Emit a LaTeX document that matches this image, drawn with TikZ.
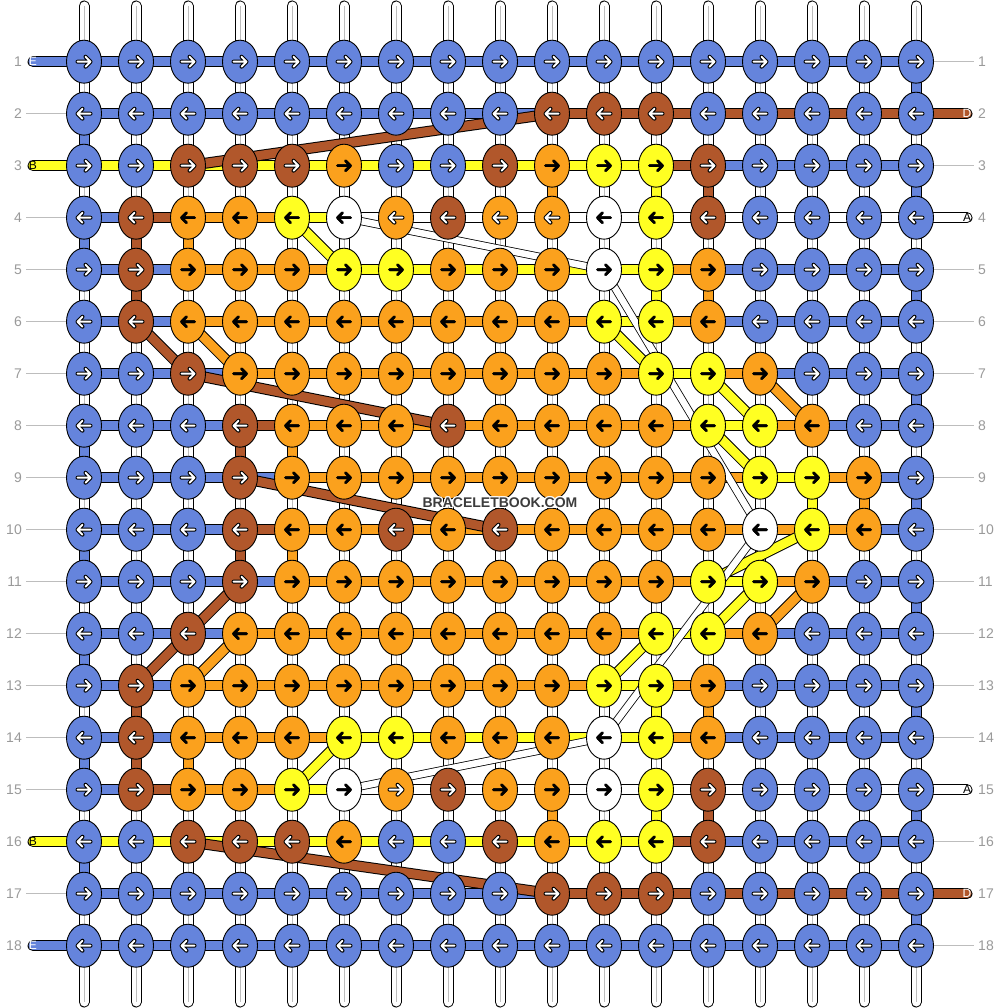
\documentclass[tikz,border=0pt]{standalone}
\usepackage{fontspec}
\setmainfont{Liberation Sans}
\usetikzlibrary{shapes.geometric}
\definecolor{cB}{HTML}{6584DC}
\definecolor{cR}{HTML}{B1572B}
\definecolor{cO}{HTML}{FBA11D}
\definecolor{co}{HTML}{FBA11D}
\definecolor{cY}{HTML}{FFFF22}
\definecolor{cW}{HTML}{FFFFFF}
\definecolor{lblgray}{HTML}{9A9A9A}
\definecolor{linegray}{HTML}{BDBDBD}
\definecolor{wmark}{HTML}{3C3C3C}
\pgfdeclarelayer{base}
\pgfdeclarelayer{segs}
\pgfdeclarelayer{diag}
\pgfsetlayers{base,segs,diag,main}
\begin{document}
\begin{tikzpicture}[x=1pt,y=-1pt,
  knot/.style={ellipse, draw=black, line width=0.9pt, minimum width=35pt, minimum height=43pt, inner sep=0pt},
  seg/.style={draw=black, line width=1pt, double distance=9pt},
  wthin/.style={draw=black, line width=0.8pt, double=white, double distance=6.5pt},
  arr/.style={line cap=round, line join=round},
  arout-B/.style={arr, draw=black, line width=4pt}, arin-B/.style={arr, draw=white, line width=2pt},
  arout-R/.style={arout-B}, arin-R/.style={arin-B},
  arout-o/.style={arout-B}, arin-o/.style={arin-B},
  arout-O/.style={arr, draw=black, line width=2.6pt}, arin-O/.style={arout-O},
  arout-Y/.style={arout-O}, arin-Y/.style={arout-O},
  arout-W/.style={arout-O}, arin-W/.style={arout-O},
  numlbl/.style={text=lblgray, font=\fontsize{14}{14}\selectfont, inner sep=0pt},
  caplbl/.style={font=\fontsize{12}{12}\selectfont, inner sep=0pt},
  lblline/.style={draw=linegray, line width=1pt}
]
\useasboundingbox (0,0) rectangle (1000,1008);
\begin{pgfonlayer}{base}
  \fill[white] (0,0) rectangle (1000,1008);
  \foreach \c in {1,...,17} {
    \pgfmathsetmacro\xx{84+52*(\c-1)}
    \coordinate (top-\c) at (\xx,6);
    \coordinate (bot-\c) at (\xx,1002);
    \draw[black, line width=11pt, line cap=round] (top-\c) -- (bot-\c);
    \draw[white, line width=9pt, line cap=round] (top-\c) -- (bot-\c);
    \draw[linegray, line width=1pt] (top-\c) -- (bot-\c);
  }
\end{pgfonlayer}

% knots
\foreach \r/\row in {
 1/{B,B,B,B,B,B,B,B,B,B,B,B,B,B,B,B,B},
 2/{B,B,B,B,B,B,B,B,B,R,R,R,B,B,B,B,B},
 3/{B,B,R,R,R,O,B,B,R,O,Y,Y,R,B,B,B,B},
 4/{B,R,O,O,Y,W,o,R,o,o,W,Y,R,B,B,B,B},
 5/{B,R,O,O,O,Y,Y,O,O,O,W,Y,O,B,B,B,B},
 6/{B,R,O,O,O,O,O,O,O,O,Y,Y,O,B,B,B,B},
 7/{B,B,R,O,O,O,O,O,O,O,O,Y,Y,O,B,B,B},
 8/{B,B,B,R,O,O,O,R,O,O,O,O,Y,Y,O,B,B},
 9/{B,B,B,R,O,O,O,O,O,O,O,O,O,Y,Y,O,B},
 10/{B,B,B,R,O,O,R,O,R,O,O,O,O,W,Y,O,B},
 11/{B,B,B,R,O,O,O,O,O,O,O,O,Y,Y,O,B,B},
 12/{B,B,R,O,O,O,O,O,O,O,O,Y,Y,O,B,B,B},
 13/{B,R,O,O,O,O,O,O,O,O,Y,Y,O,B,B,B,B},
 14/{B,R,O,O,O,Y,Y,O,O,O,W,Y,O,B,B,B,B},
 15/{B,R,O,O,Y,W,o,R,O,O,W,Y,R,B,B,B,B},
 16/{B,B,R,R,R,O,B,B,R,O,Y,Y,R,B,B,B,B},
 17/{B,B,B,B,B,B,B,B,B,R,R,R,B,B,B,B,B},
 18/{B,B,B,B,B,B,B,B,B,B,B,B,B,B,B,B,B}} {
  \pgfmathsetmacro\yy{61.7+52*(\r-1)}
  \pgfmathsetmacro\dir{ifthenelse(mod(\r,2)==1,1,-1)}
  \foreach \k [count=\c] in \row {
    \pgfmathsetmacro\xx{84+52*(\c-1)}
    \node[knot, fill=c\k] (k-\r-\c) at (\xx,\yy) {};
    \begin{scope}[shift={(k-\r-\c.center)}, xscale=\dir]
      \draw[arout-\k] (-6.5,0) -- (6.5,0) (1.5,-5) -- (6.5,0) -- (1.5,5);
      \draw[arin-\k] (-6.5,0) -- (6.5,0) (1.5,-5) -- (6.5,0) -- (1.5,5);
    \end{scope}
  }
}

% horizontal thread segments
\begin{pgfonlayer}{segs}
\foreach \r/\row in {
 1/{B,B,B,B,B,B,B,B,B,B,B,B,B,B,B,B},
 2/{B,B,B,B,B,B,B,B,B,R,R,R,R,R,R,R},
 3/{Y,Y,Y,Y,Y,Y,Y,Y,Y,Y,Y,R,B,B,B,B},
 4/{B,R,O,O,Y,W,W,W,W,W,W,W,W,W,W,W},
 5/{B,B,O,O,O,Y,Y,Y,Y,Y,Y,O,B,B,B,B},
 6/{B,B,O,O,O,O,O,O,O,O,Y,O,B,B,B,B},
 7/{B,B,B,O,O,O,O,O,O,O,O,Y,O,B,B,B},
 8/{B,B,B,R,O,O,O,O,O,O,O,O,Y,O,B,B},
 9/{B,B,B,B,O,O,O,O,O,O,O,O,O,Y,O,B},
 10/{B,B,B,R,O,O,O,O,O,O,O,O,O,O,O,B},
 11/{B,B,B,B,O,O,O,O,O,O,O,O,Y,O,B,B},
 12/{B,B,B,O,O,O,O,O,O,O,O,Y,O,B,B,B},
 13/{B,B,O,O,O,O,O,O,O,O,Y,O,B,B,B,B},
 14/{B,B,O,O,O,Y,Y,Y,Y,Y,Y,O,B,B,B,B},
 15/{B,R,O,O,Y,W,W,W,W,W,W,W,W,W,W,W},
 16/{Y,Y,Y,Y,Y,Y,Y,Y,Y,Y,Y,R,B,B,B,B},
 17/{B,B,B,B,B,B,B,B,B,R,R,R,R,R,R,R},
 18/{B,B,B,B,B,B,B,B,B,B,B,B,B,B,B,B}} {
  \foreach \k [count=\c] in \row {
    \pgfmathtruncatemacro\cn{\c+1}
    \draw[seg, double=c\k] (k-\r-\c.center) -- (k-\r-\cn.center);
  }
}
% vertical coloured segments (column/top row/colour)
\foreach \c/\r/\k in {1/2/B,1/4/B,1/8/B,1/10/B,1/12/B,1/14/B,1/16/B,
  17/1/B,17/3/B,17/5/B,17/7/B,17/9/B,17/11/B,17/13/B,17/15/B,17/17/B,
  2/4/R,2/5/R,2/13/R,2/14/R,3/4/O,3/14/O,4/8/R,4/10/R,5/8/O,5/10/O,
  10/3/O,10/15/O,12/3/Y,12/5/Y,12/13/Y,12/15/Y,13/3/R,13/5/O,13/13/O,13/15/R,
  15/9/Y,16/9/O} {
  \pgfmathtruncatemacro\rn{\r+1}
  \draw[seg, double=c\k] (k-\r-\c.center) -- (k-\rn-\c.center);
}
% string ends with letters
\foreach \r/\k in {1/B,3/Y,16/Y,18/B} {
  \pgfmathsetmacro\yy{61.7+52*(\r-1)}
  \coordinate (endL-\r) at (33,\yy);
  \draw[seg, double=c\k, line cap=round] (endL-\r) -- (k-\r-1.center);
}
\foreach \r/\k in {2/R,4/W,15/W,17/R} {
  \pgfmathsetmacro\yy{61.7+52*(\r-1)}
  \coordinate (endR-\r) at (967,\yy);
  \draw[seg, double=c\k, line cap=round] (k-\r-17.center) -- (endR-\r);
}
\end{pgfonlayer}

% carried threads
\begin{pgfonlayer}{diag}
\foreach \a/\b/\k in {3-3/2-10/R, 6-2/7-3/R, 7-3/8-8/R, 9-4/10-9/R, 11-4/12-3/R, 12-3/13-2/R, 16-3/17-10/R,
  6-3/7-4/O, 7-14/8-15/O, 11-15/12-14/O, 13-3/12-4/O,
  4-5/5-6/Y, 6-11/7-12/Y, 7-13/8-14/Y, 8-13/9-14/Y, 10-15/11-13/Y, 11-14/12-13/Y, 12-12/13-11/Y, 14-6/15-5/Y} {
  \draw[seg, double=c\k] (k-\a.center) -- (k-\b.center);
}
\foreach \a/\b in {4-6/5-11, 5-11/10-14, 10-14/14-11, 14-11/15-6} {
  \draw[wthin] (k-\a.center) -- (k-\b.center);
}
\end{pgfonlayer}

% row labels
\foreach \r in {1,...,18} {
  \pgfmathsetmacro\yy{61.7+52*(\r-1)}
  \node[numlbl, anchor=east] (numL-\r) at (22,\yy) {\r};
  \node[numlbl, anchor=west] (numR-\r) at (978,\yy) {\r};
}
\foreach \r in {2,4,5,6,7,8,9,10,11,12,13,14,15,17} {
  \pgfmathsetmacro\yy{61.7+52*(\r-1)}
  \coordinate (gl-\r) at (26,\yy);
  \draw[lblline] (gl-\r) -- (k-\r-1.west);
}
\foreach \r in {1,3,5,6,7,8,9,10,11,12,13,14,16,18} {
  \pgfmathsetmacro\yy{61.7+52*(\r-1)}
  \coordinate (gr-\r) at (974,\yy);
  \draw[lblline] (k-\r-17.east) -- (gr-\r);
}
\foreach \r/\t/\tc in {1/E/white,3/B/black,16/B/black,18/E/white} {
  \node[caplbl, text=\tc] (capL-\r) at (endL-\r) {\t};
}
\foreach \r/\t/\tc in {2/D/white,4/A/black,15/A/black,17/D/white} {
  \node[caplbl, text=\tc] (capR-\r) at (endR-\r) {\t};
}
% watermark
\foreach \dx/\dy in {-1/0,1/0,0/-1,0/1,-1/-1,1/1,-1/1,1/-1} {
  \node[text=white, font=\bfseries\fontsize{14}{14}\selectfont, inner sep=0pt] at (500+\dx,503+\dy) {BRACELETBOOK.COM};
}
\node[text=wmark, font=\bfseries\fontsize{14}{14}\selectfont, inner sep=0pt] (wm) at (500,503) {BRACELETBOOK.COM};
\end{tikzpicture}
\end{document}
